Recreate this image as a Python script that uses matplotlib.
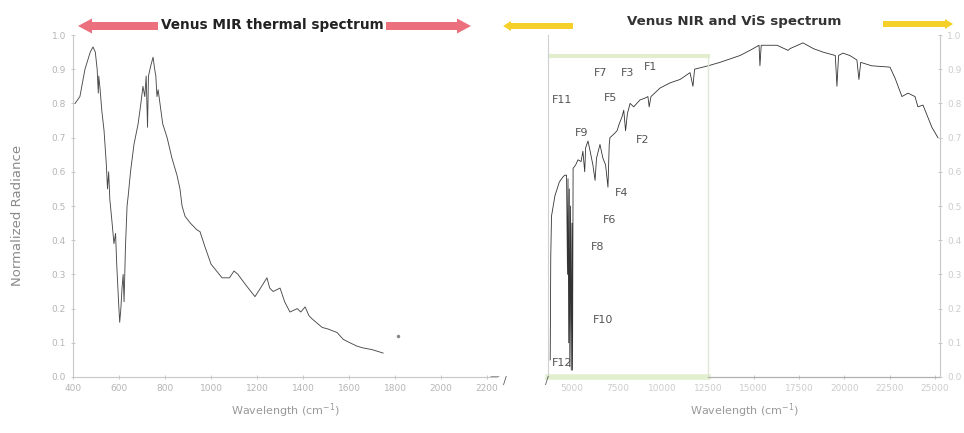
import numpy as np
import matplotlib
matplotlib.use("Agg")
from matplotlib import pyplot as plt
from matplotlib.patches import Polygon

# MIR thermal spectrum (wavenumber cm-1, normalized radiance)
mir_wn = [409, 430, 452, 475, 487, 497, 505, 510, 512, 518, 525, 535, 545, 550, 555,
          560, 570, 578, 585, 590, 598, 603, 608, 613, 618, 622, 628, 635, 640, 650,
          665, 683, 695, 704, 712, 718, 724, 728, 738, 748, 755, 760, 765, 770, 790,
          809, 830, 852, 865, 874, 887, 910, 939, 952, 974, 1000, 1048, 1080, 1100,
          1117, 1150, 1191, 1215, 1243, 1255, 1270, 1300, 1320, 1343, 1375, 1390,
          1409, 1425, 1439, 1483, 1510, 1548, 1575, 1604, 1635, 1661, 1700, 1748]
mir_val = [0.80, 0.82, 0.90, 0.95, 0.965, 0.95, 0.90, 0.83, 0.88, 0.84, 0.78, 0.72,
           0.62, 0.55, 0.60, 0.52, 0.45, 0.39, 0.42, 0.33, 0.22, 0.16, 0.20, 0.26,
           0.30, 0.22, 0.38, 0.50, 0.53, 0.60, 0.68, 0.74, 0.80, 0.85, 0.82, 0.88,
           0.73, 0.88, 0.91, 0.935, 0.90, 0.88, 0.82, 0.84, 0.74, 0.70, 0.64, 0.59,
           0.55, 0.50, 0.47, 0.45, 0.43, 0.425, 0.38, 0.33, 0.29, 0.29, 0.31, 0.30,
           0.27, 0.235, 0.26, 0.29, 0.26, 0.25, 0.26, 0.22, 0.19, 0.20, 0.19, 0.205,
           0.18, 0.17, 0.145, 0.14, 0.13, 0.11, 0.10, 0.09, 0.085, 0.08, 0.07]
mir_dot_wn = [1813]
mir_dot_val = [0.12]

# NIR / VIS spectrum
nir_wn = [3800, 3830, 3870, 4060, 4300, 4500, 4600, 4700, 4750, 4780, 4820, 4850,
          4880, 4920, 4960, 5000, 5030, 5060, 5200, 5330, 5500, 5600, 5700, 5750,
          5880, 6000, 6150, 6270, 6350, 6540, 6700, 6850, 6980, 7050, 7090, 7300,
          7480, 7600, 7750, 7850, 7950, 8050, 8200, 8400, 8740, 9000, 9180, 9250,
          9350, 9850, 10400, 10950, 11500, 11660, 11750, 12500, 13150, 13700, 14250,
          14800, 15300, 15350, 15420, 16290, 16900, 17000, 17720, 18300, 18820,
          19500, 19590, 19680, 19920, 20300, 20690, 20800, 20900, 21500, 22510,
          22790, 23170, 23500, 23890, 24050, 24330, 24820, 25150]
nir_val = [0.05, 0.35, 0.47, 0.53, 0.57, 0.585, 0.59, 0.59, 0.30, 0.58, 0.10, 0.55,
           0.03, 0.50, 0.02, 0.45, 0.02, 0.61, 0.62, 0.635, 0.63, 0.66, 0.60, 0.67,
           0.69, 0.66, 0.62, 0.575, 0.64, 0.68, 0.64, 0.62, 0.555, 0.68, 0.70, 0.71,
           0.72, 0.74, 0.76, 0.78, 0.72, 0.77, 0.80, 0.79, 0.81, 0.815, 0.82, 0.79,
           0.82, 0.845, 0.86, 0.87, 0.89, 0.85, 0.90, 0.91, 0.92, 0.93, 0.94, 0.955,
           0.97, 0.91, 0.97, 0.97, 0.955, 0.96, 0.977, 0.96, 0.95, 0.94, 0.85, 0.94,
           0.947, 0.94, 0.927, 0.87, 0.92, 0.91, 0.906, 0.874, 0.82, 0.83, 0.82, 0.79,
           0.795, 0.73, 0.70]

band_labels = ["F1", "F2", "F3", "F4", "F5", "F6", "F7", "F8", "F9", "F10", "F11", "F12"]
band_wn = [9350, 8900, 8084, 7750, 7150, 7090, 6597, 6430, 5550, 6710, 4450, 4450]
band_val = [0.905, 0.693, 0.89, 0.538, 0.816, 0.46, 0.89, 0.38, 0.713, 0.167, 0.81, 0.04]

mir_ticks = [400, 600, 800, 1000, 1200, 1400, 1600, 1800, 2000, 2200]
nir_ticks = [5000, 7500, 10000, 12500, 15000, 17500, 20000, 22500, 25000]
rad_ticks = [0.0, 0.1, 0.2, 0.3, 0.4, 0.5, 0.6, 0.7, 0.8, 0.9, 1.0]
highlight_end = 12500
highlight_level = 0.94

W, H = 964, 433
fig = plt.figure(figsize=(W / 100, H / 100), dpi=100)


def px_box(x0, y0, x1, y1):
    # pixel box (top-left origin) -> figure fraction rect
    return [x0 / W, 1 - y1 / H, (x1 - x0) / W, (y1 - y0) / H]


def px(x, y):
    return (x / W, 1 - y / H)


tick_c = "#b5b5b5"
spine_c = "#c8c8c8"

# ---- left panel ----
ax1 = fig.add_axes(px_box(73, 35, 497, 377))
ax1.plot(mir_wn, mir_val, color="#4a4a4a", lw=0.65)
ax1.plot(mir_dot_wn, mir_dot_val, ".", color="#888888", ms=3)
ax1.set_xlim(400, 2243)
ax1.set_ylim(0, 1.0)
ax1.set_xticks(mir_ticks)
ax1.set_yticks(rad_ticks)
ax1.set_yticklabels([f"{t:.1f}" for t in rad_ticks])
for s in ["top", "right"]:
    ax1.spines[s].set_visible(False)
for s in ["left", "bottom"]:
    ax1.spines[s].set_color(spine_c)
    ax1.spines[s].set_linewidth(0.8)
ax1.tick_params(axis="both", labelsize=6.5, colors=spine_c, labelcolor=tick_c,
                length=3, width=0.7, direction="inout")
ax1.set_xlabel("Wavelength (cm$^{-1}$)", fontsize=8, color="#999999", labelpad=6)
fig.text(18 / W, 1 - 215 / H, "Normalized Radiance", rotation=90, va="center",
         ha="center", fontsize=9.5, color="#8a8a8a")

# ---- right panel ----
ax2 = fig.add_axes(px_box(548, 35, 940, 377))
ax2.plot(nir_wn, nir_val, color="#333333", lw=0.6)
ax2.set_xlim(3678, 25266)
ax2.set_ylim(0, 1.0)
ax2.set_xticks(nir_ticks)
ax2.set_yticks(rad_ticks)
ax2.yaxis.tick_right()
ax2.set_yticklabels([f"{t:.1f}" for t in rad_ticks])
ax2.spines["top"].set_visible(False)
ax2.spines["left"].set_color("#d0d0d0")
ax2.spines["right"].set_color(spine_c)
ax2.spines["bottom"].set_visible(False)
ax2.tick_params(axis="both", labelsize=6.5, colors=spine_c, labelcolor="#cccccc",
                length=3, width=0.7, direction="inout")
ax2.set_xlabel("Wavelength (cm$^{-1}$)", fontsize=8, color="#999999", labelpad=6)

# highlighted window (green box)
ax2.plot([3678, highlight_end], [highlight_level, highlight_level], color="#e2efcf", lw=3)
ax2.plot([3678, highlight_end], [0, 0], color="#e2efcf", lw=4, clip_on=False)
ax2.plot([highlight_end, highlight_end], [0, highlight_level], color="#dfe6d6", lw=1)
ax2.plot([highlight_end, 25266], [0, 0], color="#b0b0b0", lw=0.9, clip_on=False)

for lab, x, y in zip(band_labels, band_wn, band_val):
    ax2.text(x, y, lab, fontsize=8, color="#555555", ha="center", va="center")

# axis break marks
fig.text(*px(490, 376), "\u2014", fontsize=7, color="#888888", ha="left", va="center")
fig.text(*px(505, 381), "/", fontsize=8, color="#666666", ha="center", va="center")
fig.text(*px(547, 381), "/", fontsize=8, color="#666666", ha="center", va="center")


# ---- banners ----
def arrow_poly(x0, x1, yc, half_bar, half_head, head_len, left=True, right=True):
    pts = []
    if left:
        pts += [(x0, yc), (x0 + head_len, yc - half_head), (x0 + head_len, yc - half_bar)]
    else:
        pts += [(x0, yc - half_bar)]
    if right:
        pts += [(x1 - head_len, yc - half_bar), (x1 - head_len, yc - half_head), (x1, yc),
                (x1 - head_len, yc + half_head), (x1 - head_len, yc + half_bar)]
    else:
        pts += [(x1, yc - half_bar), (x1, yc + half_bar)]
    if left:
        pts += [(x0 + head_len, yc + half_bar), (x0 + head_len, yc + half_head)]
    else:
        pts += [(x0, yc + half_bar)]
    return [px(x, y) for x, y in pts]


pink = "#ec6f7d"
yellow = "#f6d02a"
fig.patches.append(Polygon(arrow_poly(78, 471, 26, 4, 7.5, 14), closed=True,
                           transform=fig.transFigure, fc=pink, ec="none"))
fig.text(*px(272, 25), "Venus MIR thermal spectrum", fontsize=9.8, fontweight="bold",
         color="#222222", ha="center", va="center",
         bbox=dict(fc="white", ec="none", pad=2))
fig.patches.append(Polygon(arrow_poly(503, 573, 26, 3, 5, 8, left=True, right=False),
                           closed=True, transform=fig.transFigure, fc=yellow, ec="none"))
fig.patches.append(Polygon(arrow_poly(883, 953, 24, 3, 5, 8, left=False, right=True),
                           closed=True, transform=fig.transFigure, fc=yellow, ec="none"))
fig.text(*px(734, 21), "Venus NIR and ViS spectrum", fontsize=9.6, fontweight="bold",
         color="#333333", ha="center", va="center")

fig.savefig("out.png", dpi=100)
